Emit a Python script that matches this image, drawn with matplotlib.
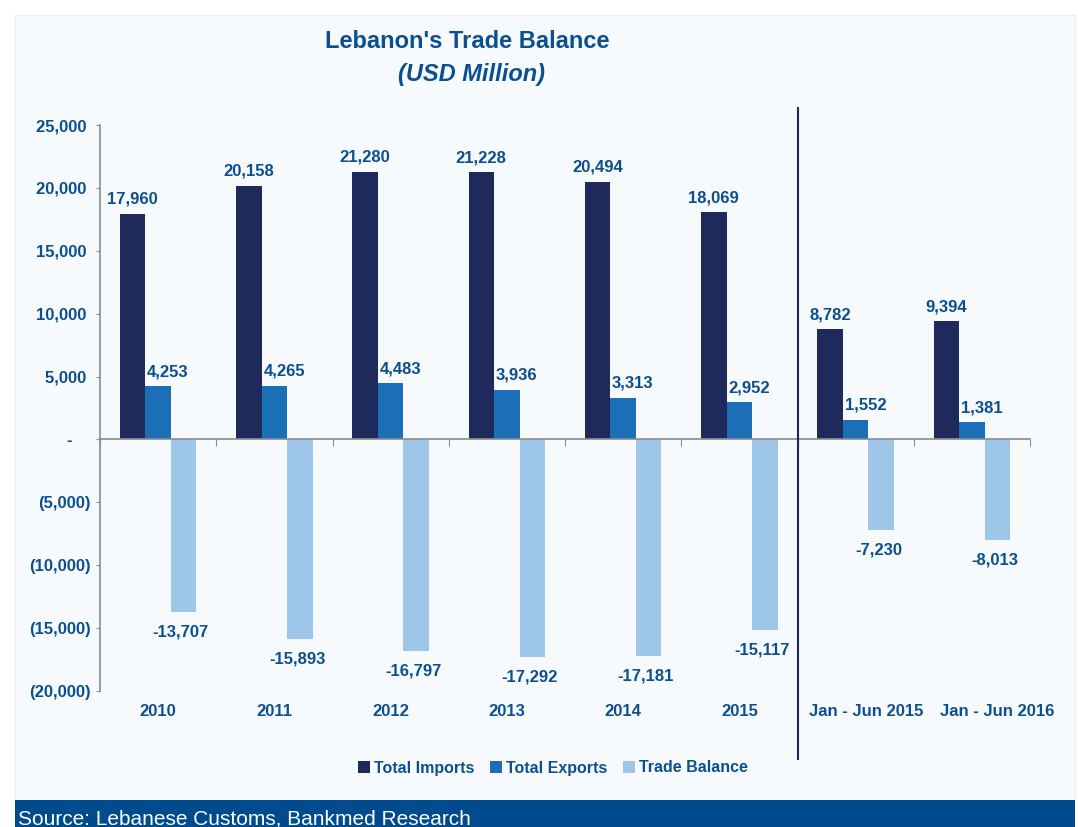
import numpy as np
import matplotlib.pyplot as plt
from matplotlib.patches import Rectangle
from matplotlib.ticker import FuncFormatter
import matplotlib.transforms as mtransforms

plt.rcParams['font.family'] = ['Liberation Sans', 'DejaVu Sans']

categories = ["2010", "2011", "2012", "2013", "2014", "2015",
              "Jan - Jun 2015", "Jan - Jun 2016"]
imports = [17960, 20158, 21280, 21228, 20494, 18069, 8782, 9394]
exports = [4253, 4265, 4483, 3936, 3313, 2952, 1552, 1381]
balance = [-13707, -15893, -16797, -17292, -17181, -15117, -7230, -8013]

TXT = "#0b4f8f"
C_IMP = "#1f2a5c"
C_EXP = "#1b6fb7"
C_BAL = "#9dc6e9"
GRID = "#8c8c8c"

W, H = 1078, 827
fig = plt.figure(figsize=(W / 100, H / 100), dpi=100)
fig.patch.set_facecolor("white")

# panel background and source bar
fig.add_artist(Rectangle((15 / W, 1 - 800 / H), 1060 / W, 785 / H,
                         transform=fig.transFigure, facecolor="#f7fafc",
                         edgecolor="#eeeeee", lw=0.8, zorder=0))
fig.add_artist(Rectangle((15 / W, 0), 1060 / W, 27 / H,
                         transform=fig.transFigure, facecolor="#004b8d",
                         edgecolor="none", zorder=1))
fig.text(18 / W, 8 / H, "Source: Lebanese Customs, Bankmed Research",
         color="white", fontsize=15, ha="left", va="center")

ax = fig.add_axes([100 / W, 1 - 691 / H, 930 / W, 566 / H])
ax.set_facecolor("none")

x = np.arange(len(categories))
bw = 0.22
b1 = ax.bar(x - bw, imports, bw, color=C_IMP, label="Total Imports", zorder=3)
b2 = ax.bar(x, exports, bw, color=C_EXP, label="Total Exports", zorder=3)
b3 = ax.bar(x + bw, balance, bw, color=C_BAL, label="Trade Balance", zorder=3)

lab = dict(color=TXT, fontsize=12, fontweight="bold", textcoords="offset points")
for r, v in zip(b1, imports):
    ax.annotate(f"{v:,}", (r.get_x() + r.get_width() / 2, v), xytext=(0, 5),
                ha="center", va="bottom", **lab)
for r, v in zip(b2, exports):
    ax.annotate(f"{v:,}", (r.get_x() + r.get_width() / 2, v), xytext=(7, 5),
                ha="center", va="bottom", **lab)
for r, v in zip(b3, balance):
    ax.annotate(f"{v:,}", (r.get_x() + r.get_width() / 2, v), xytext=(-2, -9),
                ha="center", va="top", **lab)

ax.set_xlim(-0.5, len(categories) - 0.5)
ax.set_ylim(-20000, 25000)
ax.set_yticks(np.arange(-20000, 25001, 5000))


def yfmt(v, pos):
    # accounting style: negatives in brackets, zero as a dash
    if v == 0:
        return "-    "
    if v < 0:
        return f"({-v:,.0f})"
    return f"{v:,.0f} "


ax.yaxis.set_major_formatter(FuncFormatter(yfmt))
ax.tick_params(axis="y", colors=GRID, labelcolor=TXT, labelsize=12,
               length=3, direction="out", pad=3.5)
for t in ax.get_yticklabels():
    t.set_fontweight("bold")

for s in ["top", "right"]:
    ax.spines[s].set_visible(False)
ax.spines["left"].set_color(GRID)
ax.spines["left"].set_linewidth(1.2)
ax.spines["bottom"].set_position(("data", 0))
ax.spines["bottom"].set_color(GRID)
ax.spines["bottom"].set_linewidth(1.2)
ax.spines["bottom"].set_zorder(4)
ax.set_xticks(np.arange(-0.5, len(categories), 1.0))
ax.set_xticklabels([])
ax.tick_params(axis="x", colors=GRID, length=5, direction="out")

trans = mtransforms.blended_transform_factory(ax.transData, ax.transAxes)
label_shift = [0, 0, 0, 0, 0, 0, 0.09, 0.22]
for xi, c, dx in zip(x, categories, label_shift):
    ax.text(xi + dx, -0.037, c, transform=trans, ha="center",
            va="center", color=TXT, fontsize=12, fontweight="bold")

# separator between full years and half-year figures
ax.plot([5.5, 5.5], [-0.12, 1.03], transform=trans, color=C_IMP, lw=1.5,
        clip_on=False, zorder=5)

fig.text(467 / W, 1 - 41 / H, "Lebanon's Trade Balance", color=TXT,
         fontsize=17, fontweight="bold", ha="center", va="center")
fig.text(471 / W, 1 - 74 / H, "(USD Million)", color=TXT, fontsize=17,
         fontweight="bold", style="italic", ha="center", va="center")

leg = fig.legend(handles=[b1, b2, b3], loc="center", ncol=3,
                 bbox_to_anchor=(553 / W, 1 - 768 / H), frameon=False,
                 handlelength=0.75, handleheight=0.75, handletextpad=0.25,
                 columnspacing=1.0, prop={"size": 11.5, "weight": "bold"})
for t in leg.get_texts():
    t.set_color(TXT)

fig.savefig("out.png", dpi=100, facecolor=fig.get_facecolor())
